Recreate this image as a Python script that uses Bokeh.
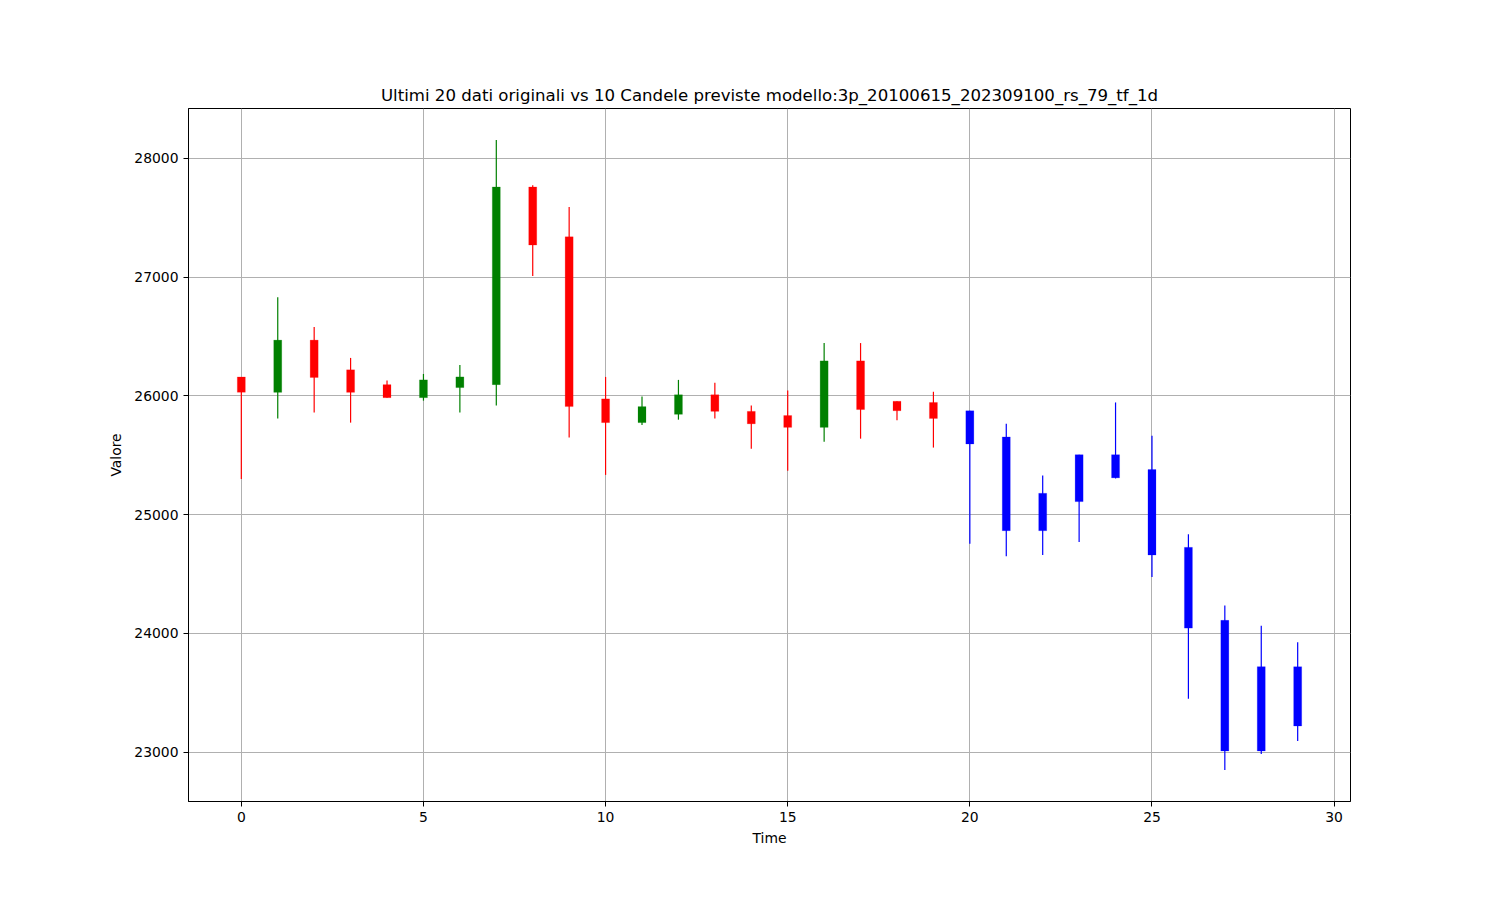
from bokeh.plotting import figure
from bokeh.models import Range1d, FixedTicker, ColumnDataSource
from bokeh.embed import file_html
from bokeh.resources import INLINE

# Historical candles (last 20 original data points)
hist_open = [26160, 26030, 26470, 26220, 26095, 25985, 26070, 26095, 27760, 27340,
             25975, 25775, 25845, 26010, 25870, 25835, 25735, 26295, 25955, 25945]
hist_close = [26030, 26470, 26155, 26030, 25985, 26135, 26160, 27760, 27270, 25910,
              25775, 25910, 26010, 25870, 25765, 25735, 26295, 25885, 25875, 25810]
hist_high = [26160, 26830, 26580, 26320, 26130, 26185, 26260, 28155, 27775, 27590,
             26160, 25995, 26135, 26110, 25920, 26045, 26445, 26445, 25955, 26035]
hist_low = [25300, 25810, 25860, 25775, 25985, 25960, 25860, 25920, 27010, 25650,
            25335, 25755, 25800, 25810, 25555, 25370, 25615, 25640, 25795, 25565]

# Predicted candles (10 from the model)
pred_open = [25875, 25655, 25180, 25505, 25505, 25380, 24725, 24110, 23720, 23720]
pred_close = [25595, 24865, 24865, 25110, 25310, 24660, 24045, 23010, 23010, 23220]
pred_high = [25875, 25765, 25330, 25505, 25945, 25665, 24835, 24235, 24065, 23925]
pred_low = [24755, 24650, 24660, 24770, 25305, 24475, 23450, 22850, 22985, 23095]

x_ticks = [0, 5, 10, 15, 20, 25, 30]
y_ticks = [23000, 24000, 25000, 26000, 27000, 28000]
title = "Ultimi 20 dati originali vs 10 Candele previste modello:3p_20100615_202309100_rs_79_tf_1d"

n_hist = len(hist_open)
xs = list(range(n_hist + len(pred_open)))
opens = hist_open + pred_open
closes = hist_close + pred_close
highs = hist_high + pred_high
lows = hist_low + pred_low
colors = [("green" if c >= o else "red") for o, c in zip(hist_open, hist_close)] + ["blue"] * len(pred_open)

src = ColumnDataSource(dict(
    x=xs,
    high=highs,
    low=lows,
    top=[max(o, c) for o, c in zip(opens, closes)],
    bottom=[min(o, c) for o, c in zip(opens, closes)],
    color=colors,
))

xmin, xmax = min(xs), max(xs)
xm = (xmax - xmin) * 0.05
ymin, ymax = min(lows), max(highs)
ym = (ymax - ymin) * 0.05

FONT = "DejaVu Sans"

p = figure(width=1484, height=884, output_backend="svg", toolbar_location=None,
           x_range=Range1d(xmin - xm, xmax + xm), y_range=Range1d(ymin - ym, ymax + ym),
           min_border_left=188, min_border_right=134, min_border_top=108, min_border_bottom=83,
           background_fill_color="white", border_fill_color="white")

p.title.text = title
p.title.align = "center"
p.title.text_font = FONT
p.title.text_font_size = "16.6px"
p.title.text_font_style = "normal"
p.title.text_color = "black"
p.title.standoff = 7

p.outline_line_color = "black"
p.outline_line_width = 1
p.outline_line_alpha = 1

for ax in (p.xaxis[0], p.yaxis[0]):
    ax.major_label_text_font = FONT
    ax.major_label_text_font_size = "13.9px"
    ax.major_label_text_color = "black"
    ax.axis_label_text_font = FONT
    ax.axis_label_text_font_size = "13.9px"
    ax.axis_label_text_font_style = "normal"
    ax.axis_label_text_color = "black"
    ax.major_tick_in = 0
    ax.major_tick_out = 5
    ax.minor_tick_line_color = None
    ax.axis_line_color = "black"
    ax.major_tick_line_color = "black"
    ax.major_label_standoff = 5

p.xaxis.axis_label_standoff = 5
p.yaxis.axis_label_standoff = 7

p.xaxis.ticker = FixedTicker(ticks=x_ticks)
p.yaxis.ticker = FixedTicker(ticks=y_ticks)
p.xaxis.axis_label = "Time"
p.yaxis.axis_label = "Valore"

p.grid.grid_line_color = "#b0b0b0"
p.grid.grid_line_width = 1
p.xgrid.ticker = FixedTicker(ticks=x_ticks)
p.ygrid.ticker = FixedTicker(ticks=y_ticks)

p.segment(x0="x", y0="low", x1="x", y1="high", line_color="color", line_width=1.2, source=src)
p.vbar(x="x", width=0.22, top="top", bottom="bottom", fill_color="color", line_color="color",
       line_width=0.5, line_alpha=0.4, source=src)

open("out.html", "w").write(file_html(p, INLINE))
